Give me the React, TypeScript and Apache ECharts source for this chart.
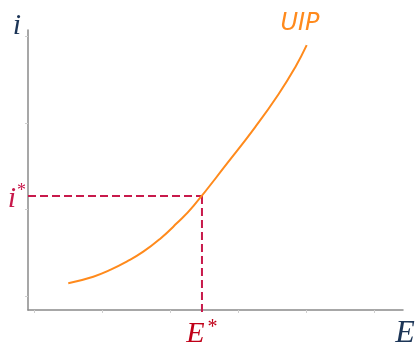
import React, { useEffect, useRef } from "react";
import * as echarts from "echarts";

// UIP curve points (E, i)
const uipE = [0.504, 0.872, 1.118, 1.363, 1.607, 1.853, 2.099, 2.343, 2.857, 3.25, 3.593, 3.838, 4.01];
const uipI = [0.147, 0.223, 0.301, 0.397, 0.512, 0.66, 0.84, 1.04, 1.55, 1.95, 2.33, 2.64, 2.9];

// equilibrium
const eqE = 2.47;
const eqI = 1.155;

// axis extents and faint ticks
const xMin = -0.088;
const xMax = 5.426;
const yMin = -0.162;
const yMax = 3.075;
const xTicks = [0, 1, 2, 3, 4, 5];
const yTicks = [0, 1, 2, 3];
const dashBottom = -0.23;

const NAVY = "#1c3557";
const ORANGE = "#ff8a1c";
const CRIMSON = "#c8194b";
const RED = "#c00018";
const SERIF = "'Liberation Serif', 'DejaVu Serif', serif";

export default function App() {
  const ref = useRef<HTMLDivElement>(null);
  useEffect(() => {
    if (!ref.current) return;
    const chart = echarts.init(ref.current, null, { renderer: "svg" });
    chart.setOption({
      animation: false,
      grid: { left: 28, top: 30, width: 375, height: 280, containLabel: false },
      xAxis: {
        type: "value",
        min: xMin,
        max: xMax,
        splitLine: { show: false },
        axisLine: { show: true, onZero: false, lineStyle: { color: "#8a8a8a", width: 1.5 } },
        axisTick: { show: true, customValues: xTicks, length: 3, lineStyle: { color: "#cfcfcf", width: 1 } },
        axisLabel: {
          show: true,
          customValues: [eqE],
          margin: 6,
          formatter: () => "{v|E}{s|*}",
          rich: {
            v: { fontFamily: SERIF, fontStyle: "italic", fontSize: 30, color: RED, lineHeight: 30 },
            s: { fontFamily: SERIF, fontSize: 20, color: RED, verticalAlign: "top", lineHeight: 30, padding: [0, 0, 10, 3] },
          },
        },
      },
      yAxis: {
        type: "value",
        min: yMin,
        max: yMax,
        splitLine: { show: false },
        axisLine: { show: true, onZero: false, lineStyle: { color: "#8a8a8a", width: 1.5 } },
        axisTick: { show: true, customValues: yTicks, length: 3, lineStyle: { color: "#cfcfcf", width: 1 } },
        axisLabel: {
          show: true,
          customValues: [eqI],
          margin: 2,
          formatter: () => "{v|i}{s|*}",
          rich: {
            v: { fontFamily: SERIF, fontStyle: "italic", fontSize: 30, color: CRIMSON, lineHeight: 30 },
            s: { fontFamily: SERIF, fontSize: 18, color: CRIMSON, verticalAlign: "top", lineHeight: 30, padding: [0, 0, 8, 1] },
          },
        },
      },
      series: [
        {
          type: "line",
          data: uipE.map((e, k) => [e, uipI[k]]),
          smooth: 0.5,
          showSymbol: false,
          symbol: "none",
          lineStyle: { color: ORANGE, width: 2 },
          z: 3,
        },
        {
          type: "line",
          data: [[xMin, eqI], [eqE, eqI]],
          symbol: "none",
          clip: false,
          lineStyle: { color: CRIMSON, width: 2, type: [8, 4] },
          z: 2,
        },
        {
          type: "line",
          data: [[eqE, eqI], [eqE, dashBottom]],
          symbol: "none",
          clip: false,
          lineStyle: { color: CRIMSON, width: 2, type: [8, 4] },
          z: 2,
        },
      ],
      graphic: [
        {
          type: "text",
          x: 17,
          y: 38,
          style: { text: "i", font: `italic 30px ${SERIF}`, fill: NAVY, textAlign: "center", textVerticalAlign: "bottom" },
        },
        {
          type: "text",
          x: 405,
          y: 347,
          style: { text: "E", font: `italic 32px ${SERIF}`, fill: NAVY, textAlign: "center", textVerticalAlign: "bottom" },
        },
        {
          type: "text",
          x: 300,
          y: 34,
          style: { text: "UIP", font: `italic 24px 'DejaVu Sans', sans-serif`, fill: ORANGE, textAlign: "center", textVerticalAlign: "bottom" },
        },
      ],
    });
    return () => chart.dispose();
  }, []);
  return <div ref={ref} style={{ position: "fixed", left: 0, top: 0, width: 418, height: 348 }} />;
}
